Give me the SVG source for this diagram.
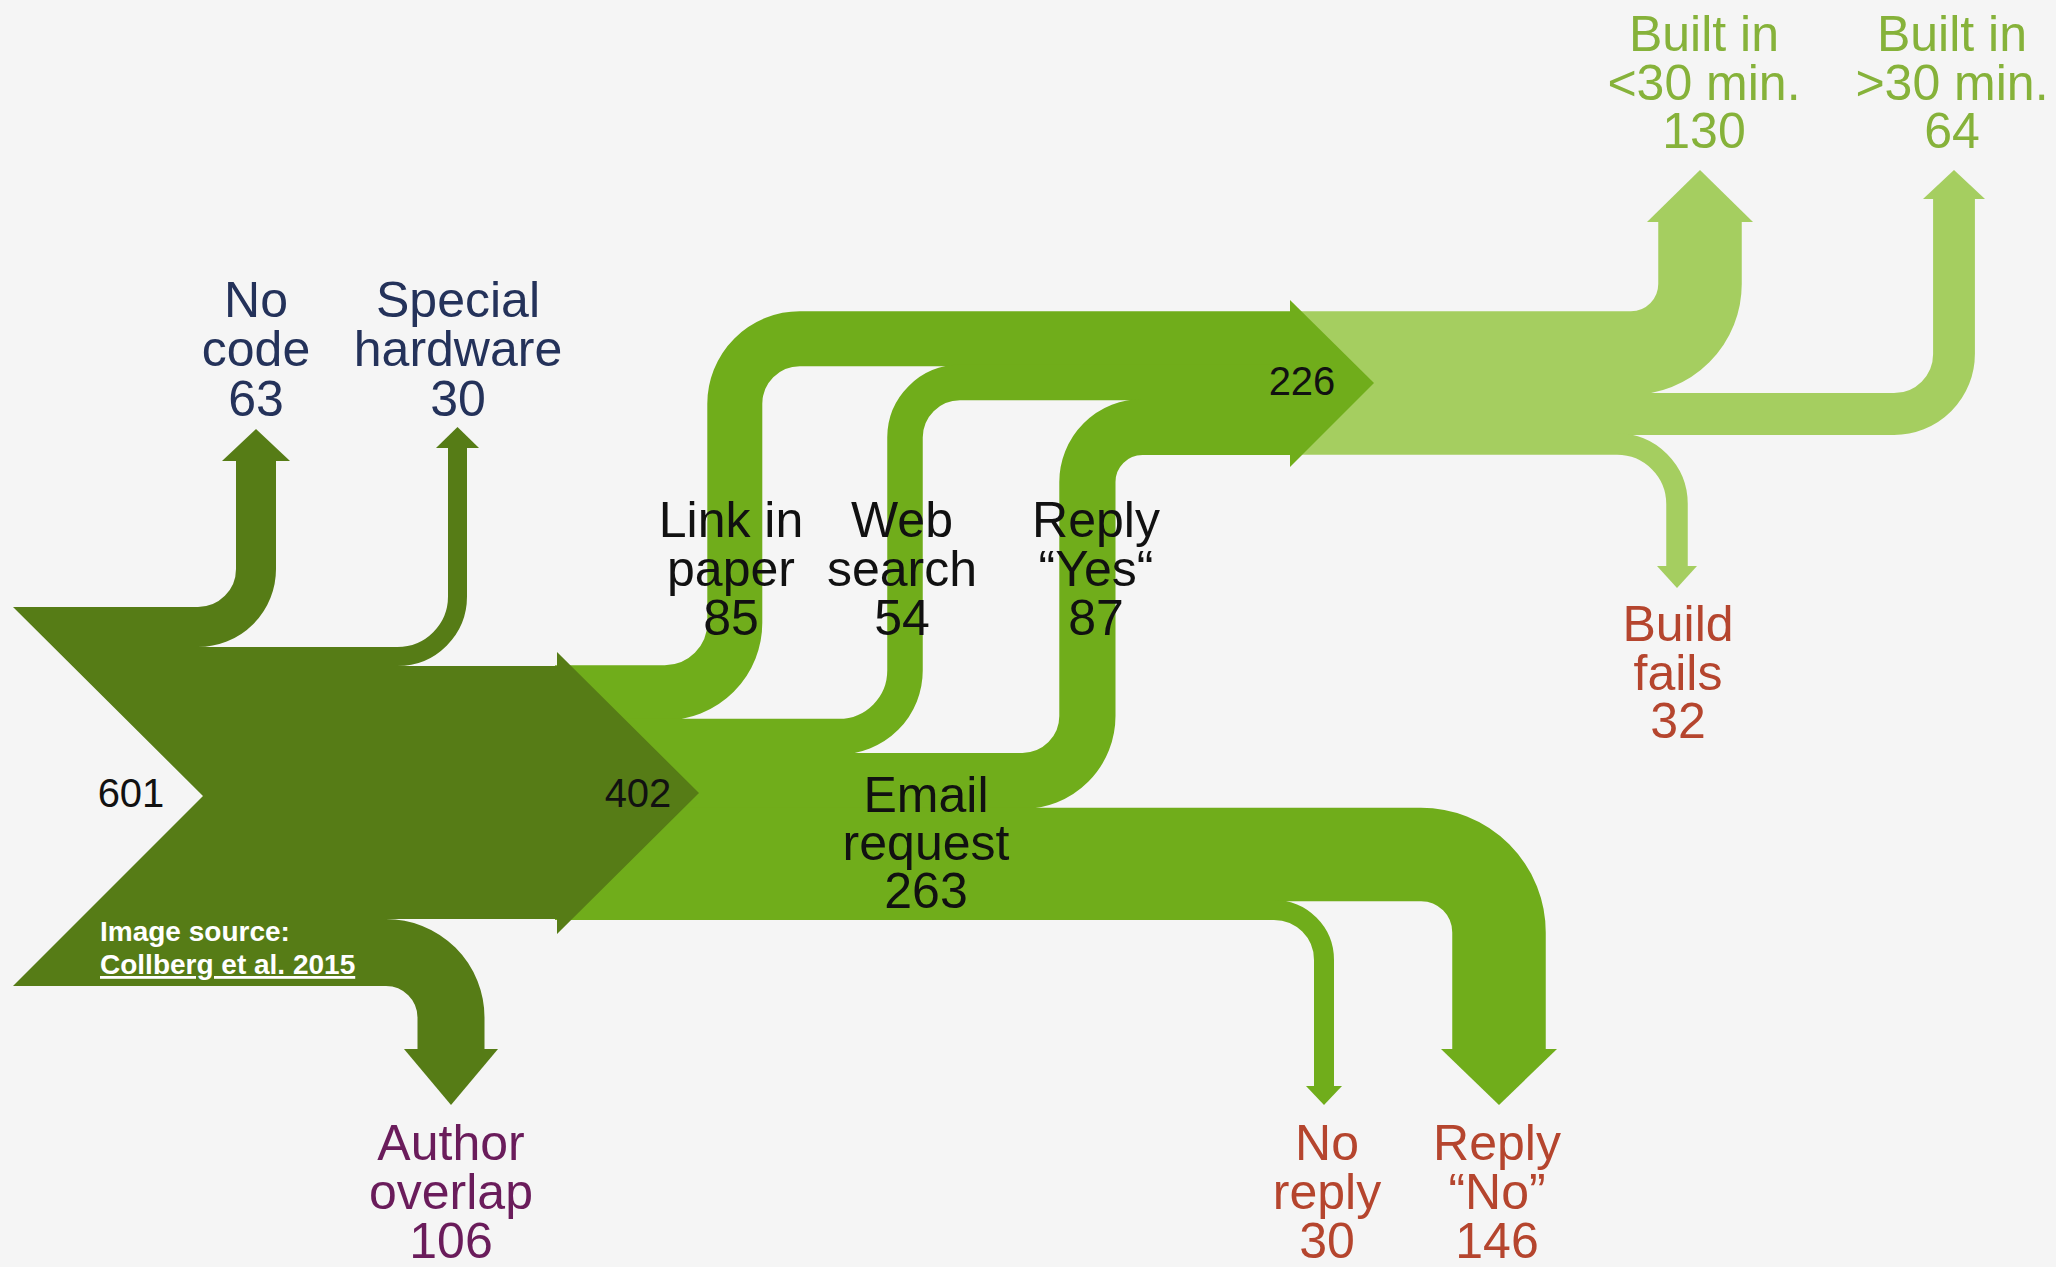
<svg xmlns="http://www.w3.org/2000/svg" width="2056" height="1267" viewBox="0 0 2056 1267">
<style>
.dk{fill:#567c16}.md{fill:#70ad1b}.lt{fill:#a5ce60}
.sd{fill:none;stroke:#567c16}.sm{fill:none;stroke:#70ad1b}.sl{fill:none;stroke:#a5ce60}
text{font-family:"Liberation Sans",Arial,Helvetica,sans-serif;text-anchor:middle}
.lb{font-size:50px}
.num{font-size:40px;fill:#111}
.navy{fill:#24325a}.purple{fill:#6a1c5b}.red{fill:#b5452e}.grn{fill:#86b23a}.blk{fill:#111}
.src{font-size:28px;font-weight:bold;fill:#fff;text-anchor:start}
</style>
<rect width="2056" height="1267" fill="#f5f5f5"/>
<g id="connectors">
  <!-- light green: 226 split -->
  <g id="to-built-lt30">
    <path class="sl" stroke-width="83.5" d="M1290,353 H1631 A69,69 0 0 0 1700,284 V222"/>
    <polygon class="lt" points="1647,222 1700,170 1753,222"/>
  </g>
  <g id="to-built-gt30">
    <path class="sl" stroke-width="41.8" d="M1290,414 H1894 A60,60 0 0 0 1954,354 V199"/>
    <polygon class="lt" points="1923,199 1954,170 1985,199"/>
  </g>
  <g id="to-build-fails">
    <path class="sl" stroke-width="21.5" d="M1290,444 H1617 A60,60 0 0 1 1677,504 V566"/>
    <polygon class="lt" points="1657,566 1677,588 1697,566"/>
  </g>
  <!-- medium green: 402 split -->
  <g id="link-in-paper">
    <path class="sm" stroke-width="55" d="M555,692.8 H664.8 A70,70 0 0 0 734.8,622.8 V403.8 A65,65 0 0 1 799.8,338.8 H1295"/>
  </g>
  <g id="web-search">
    <path class="sm" stroke-width="35.5" d="M555,736.6 H839 A66,66 0 0 0 905,670.6 V437.6 A55,55 0 0 1 960,382.6 H1295"/>
  </g>
  <g id="reply-yes">
    <path class="sm" stroke-width="56.2" d="M555,781 H1022.4 A65,65 0 0 0 1087.4,716 V482 A55,55 0 0 1 1142.4,427 H1295"/>
  </g>
  <g id="to-reply-no">
    <path class="sm" stroke-width="93.5" d="M555,854.4 H1421 A78,78 0 0 1 1499,932.4 V1049"/>
    <polygon class="md" points="1441,1049 1499,1105 1557,1049"/>
  </g>
  <g id="to-no-reply">
    <path class="sm" stroke-width="20" d="M555,909.9 H1274 A50,50 0 0 1 1324,959.9 V1086"/>
    <polygon class="md" points="1306,1086 1324,1105 1342,1086"/>
  </g>
  <polygon id="arrow-226" class="md" points="1290,300 1374,383 1290,467"/>
  <!-- dark green: 601 split -->
  <g id="to-no-code">
    <path class="sd" stroke-width="40" d="M190,627 H198 A58,58 0 0 0 256,569 V461"/>
    <polygon class="dk" points="222,461 256,429 290,461"/>
  </g>
  <g id="to-special-hardware">
    <path class="sd" stroke-width="19" d="M390,656.5 H397.5 A60,60 0 0 0 457.5,596.5 V448"/>
    <polygon class="dk" points="436,448 457.5,427 479,448"/>
  </g>
  <g id="to-author-overlap">
    <path class="sd" stroke-width="67" d="M380,952.5 H386 A65,65 0 0 1 451,1017.5 V1049"/>
    <polygon class="dk" points="404,1049 451,1105 498,1049"/>
  </g>
</g>
<g id="node-input">
  <polygon class="dk" points="13,607 198,607 198,647 397.5,647 397.5,666 557,666 557,652 699,793 557,934 557,919 386,919 386,986 13,986 203,796"/>
  <text class="num" x="131" y="807">601</text>
  <text class="num" x="638" y="807">402</text>
  <text class="src" x="100" y="941">Image source:</text>
  <text class="src" x="100" y="974" text-decoration="underline">Collberg et al. 2015</text>
</g>
<g id="node-226"><text class="num" x="1302" y="395">226</text></g>
<g id="node-no-code"><text class="lb navy"><tspan x="256" y="317">No</tspan><tspan x="256" y="366">code</tspan><tspan x="256" y="416">63</tspan></text></g>
<g id="node-special-hardware"><text class="lb navy"><tspan x="458" y="317">Special</tspan><tspan x="458" y="366">hardware</tspan><tspan x="458" y="416">30</tspan></text></g>
<g id="node-link-in-paper"><text class="lb blk"><tspan x="731" y="537">Link in</tspan><tspan x="731" y="586">paper</tspan><tspan x="731" y="635">85</tspan></text></g>
<g id="node-web-search"><text class="lb blk"><tspan x="902" y="537">Web</tspan><tspan x="902" y="586">search</tspan><tspan x="902" y="635">54</tspan></text></g>
<g id="node-reply-yes"><text class="lb blk"><tspan x="1096" y="537">Reply</tspan><tspan x="1096" y="586">“Yes“</tspan><tspan x="1096" y="635">87</tspan></text></g>
<g id="node-email-request"><text class="lb blk"><tspan x="926" y="812">Email</tspan><tspan x="926" y="860">request</tspan><tspan x="926" y="908">263</tspan></text></g>
<g id="node-built-lt30"><text class="lb grn"><tspan x="1704" y="51">Built in</tspan><tspan x="1704" y="100">&lt;30 min.</tspan><tspan x="1704" y="148">130</tspan></text></g>
<g id="node-built-gt30"><text class="lb grn"><tspan x="1952" y="51">Built in</tspan><tspan x="1952" y="100">&gt;30 min.</tspan><tspan x="1952" y="148">64</tspan></text></g>
<g id="node-build-fails"><text class="lb red"><tspan x="1678" y="641">Build</tspan><tspan x="1678" y="690">fails</tspan><tspan x="1678" y="738">32</tspan></text></g>
<g id="node-author-overlap"><text class="lb purple"><tspan x="451" y="1160">Author</tspan><tspan x="451" y="1209">overlap</tspan><tspan x="451" y="1258">106</tspan></text></g>
<g id="node-no-reply"><text class="lb red"><tspan x="1327" y="1160">No</tspan><tspan x="1327" y="1209">reply</tspan><tspan x="1327" y="1258">30</tspan></text></g>
<g id="node-reply-no"><text class="lb red"><tspan x="1497" y="1160">Reply</tspan><tspan x="1497" y="1209">“No”</tspan><tspan x="1497" y="1258">146</tspan></text></g>
</svg>
